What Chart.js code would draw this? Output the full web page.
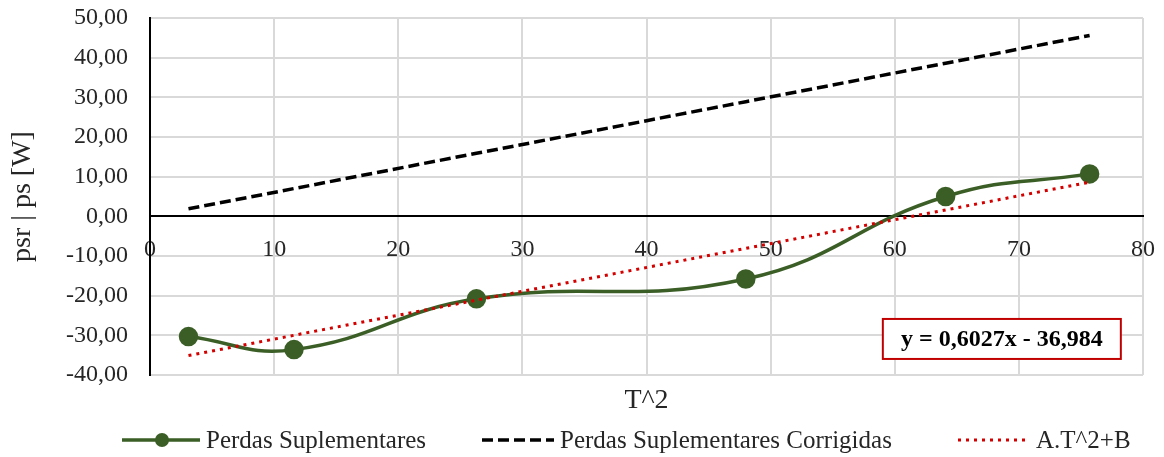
<!DOCTYPE html>
<html>
<head>
<meta charset="utf-8">
<script src="https://cdn.jsdelivr.net/npm/chart.js@4"></script>
<style>
  html, body { margin: 0; padding: 0; background: #fff; }
  #wrap { width: 1164px; height: 457px; }
</style>
</head>
<body>
<div id="wrap"><canvas id="grafico"></canvas></div>
<script>
// Valores
var t2 = [3.1, 11.6, 26.3, 48.0, 64.1, 75.7];
var perdas = [-30.3, -33.6, -20.8, -15.8, 5.0, 10.7];
var perdasCorrigidas = [1.9, 7.0, 15.9, 28.9, 38.6, 45.6];
var tendenciaX = [3.1, 75.7];
var tendenciaY = [-35.1, 8.6];
var yTicks = [50, 40, 30, 20, 10, 0, -10, -20, -30, -40];
var xTicks = [0, 10, 20, 30, 40, 50, 60, 70, 80];
var equacao = 'y = 0,6027x - 36,984';

function pontos(xs, ys) {
  return xs.map(function (x, i) { return { x: x, y: ys[i] }; });
}

var serif = "'Liberation Serif', 'Times New Roman', serif";
var corTexto = '#262626';

// Caixa com a equação da linha de tendência
var caixaEquacao = {
  id: 'caixaEquacao',
  afterDatasetsDraw: function (chart) {
    var ctx = chart.ctx, a = chart.chartArea;
    var x = a.left + (a.right - a.left) * 0.738;
    var y = a.top + (a.bottom - a.top) * 0.843;
    var w = 238, h = 40;
    ctx.save();
    ctx.fillStyle = '#fff';
    ctx.fillRect(x, y, w, h);
    ctx.strokeStyle = '#c00000';
    ctx.lineWidth = 2;
    ctx.strokeRect(x, y, w, h);
    ctx.fillStyle = '#000';
    ctx.font = 'bold 24px ' + serif;
    ctx.textAlign = 'center';
    ctx.textBaseline = 'middle';
    ctx.fillText(equacao, x + w / 2, y + h / 2 + 1);
    ctx.restore();
  }
};

// Legenda desenhada à mão (linha + marcador como no Excel)
var legenda = {
  id: 'legendaExcel',
  afterDraw: function (chart) {
    var ctx = chart.ctx;
    var yl = 440;
    var itens = [
      { x: 122, ds: chart.data.datasets[0], marker: true },
      { x: 482, ds: chart.data.datasets[1], marker: false },
      { x: 958, ds: chart.data.datasets[2], marker: false }
    ];
    ctx.save();
    itens.forEach(function (it) {
      var ds = it.ds;
      var len = it.marker ? 78 : 72;
      ctx.beginPath();
      ctx.setLineDash(ds.borderDash || []);
      ctx.strokeStyle = ds.borderColor;
      ctx.lineWidth = ds.borderWidth;
      ctx.moveTo(it.x, yl);
      ctx.lineTo(it.x + len, yl);
      ctx.stroke();
      ctx.setLineDash([]);
      if (it.marker) {
        ctx.beginPath();
        ctx.fillStyle = ds.pointBackgroundColor;
        ctx.arc(it.x + 40, yl, 7, 0, Math.PI * 2);
        ctx.fill();
      }
      ctx.fillStyle = corTexto;
      ctx.font = '25px ' + serif;
      ctx.textBaseline = 'middle';
      ctx.fillText(ds.label, it.x + len + 6, yl + 1);
    });
    ctx.restore();
  }
};

var ctx = document.getElementById('grafico').getContext('2d');
var grafico = new Chart(ctx, {
  type: 'scatter',
  data: {
    datasets: [{
      label: 'Perdas Suplementares',
      data: pontos(t2, perdas),
      xAxisID: 'x',
      showLine: true,
      tension: 0.45,
      borderColor: '#3b5e26',
      borderWidth: 3.5,
      pointRadius: 8,
      pointHoverRadius: 8,
      pointBackgroundColor: '#3b5e26',
      pointBorderColor: '#3b5e26',
      order: 1
    }, {
      label: 'Perdas Suplementares Corrigidas',
      data: pontos(t2, perdasCorrigidas),
      xAxisID: 'x',
      showLine: true,
      borderColor: '#000',
      borderWidth: 3.5,
      borderDash: [11, 5],
      pointRadius: 0,
      order: 2
    }, {
      label: 'A.T^2+B',
      data: pontos(tendenciaX, tendenciaY),
      xAxisID: 'x',
      showLine: true,
      borderColor: '#d40000',
      borderWidth: 3,
      borderDash: [3, 5],
      pointRadius: 0,
      order: 0
    }]
  },
  options: {
    responsive: true,
    maintainAspectRatio: false,
    animation: false,
    layout: { padding: { left: 0, right: 21, top: 0, bottom: 36 } },
    plugins: {
      legend: { display: false },
      tooltip: { enabled: false }
    },
    scales: {
      x: {
        type: 'linear',
        position: { y: 0 },
        min: 0,
        max: 80,
        afterBuildTicks: function (s) { s.ticks = xTicks.map(function (v) { return { value: v }; }); },
        afterFit: function (s) { s.paddingLeft = 0; s.paddingRight = 0; },
        grid: { color: '#d9d9d9', lineWidth: 2, drawTicks: false },
        border: { color: '#000', width: 2 },
        ticks: { padding: 19, color: corTexto, font: { family: serif, size: 24 } }
      },
      x2: {
        type: 'linear',
        position: 'bottom',
        min: 0,
        max: 80,
        grid: { display: false },
        border: { display: false },
        ticks: { display: false },
        afterFit: function (s) { s.height = 46; s.paddingLeft = 0; s.paddingRight = 0; },
        title: { display: true, text: 'T^2', color: corTexto, padding: { top: 0, bottom: 4 }, font: { family: serif, size: 28 } }
      },
      y: {
        min: -40,
        max: 50,
        afterBuildTicks: function (s) { s.ticks = yTicks.map(function (v) { return { value: v }; }); },
        afterFit: function (s) { s.width = 150; s.paddingTop = 18; s.paddingBottom = 0; },
        grid: { color: '#d9d9d9', lineWidth: 2, drawTicks: false },
        border: { color: '#000', width: 2 },
        ticks: {
          padding: 22,
          color: corTexto,
          font: { family: serif, size: 24 },
          callback: function (v) { return v.toFixed(2).replace('.', ','); }
        },
        title: { display: true, text: 'psr | ps [W]', color: corTexto, padding: { top: 6, bottom: 0 }, font: { family: serif, size: 28 } }
      }
    }
  },
  plugins: [caixaEquacao, legenda]
});
</script>
</body>
</html>
